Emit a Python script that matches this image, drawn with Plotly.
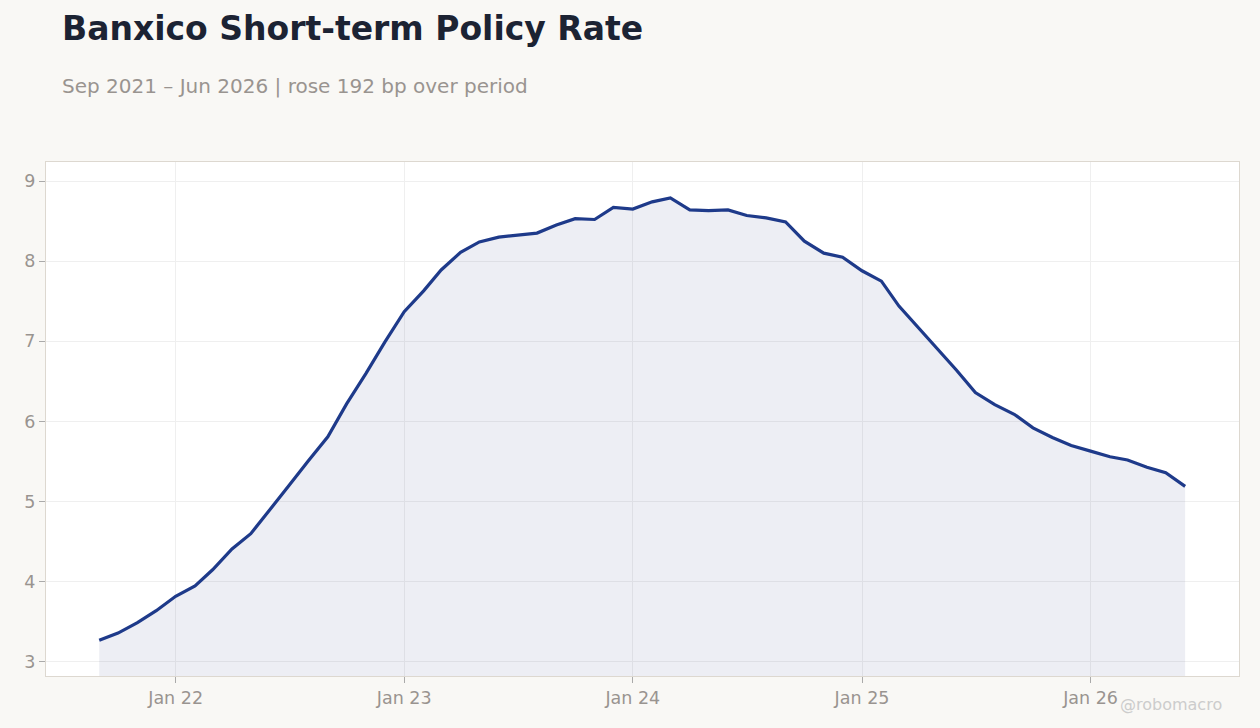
import plotly.graph_objects as go
import pandas as pd

months = pd.date_range("2021-09-01", "2026-06-01", freq="MS")
rate = [3.27, 3.36, 3.49, 3.64, 3.82, 3.95, 4.15, 4.41, 4.60, 4.90,
        5.20, 5.51, 5.81, 6.22, 6.60, 6.99, 7.37, 7.63, 7.89, 8.11,
        8.24, 8.30, 8.32, 8.35, 8.45, 8.53, 8.52, 8.67, 8.65, 8.74,
        8.79, 8.64, 8.63, 8.64, 8.57, 8.54, 8.49, 8.25, 8.10, 8.05,
        7.88, 7.75, 7.44, 7.17, 6.90, 6.64, 6.36, 6.21, 6.09, 5.92,
        5.80, 5.70, 5.63, 5.56, 5.52, 5.43, 5.36, 5.19]

title = "Banxico Short-term Policy Rate"
subtitle = "Sep 2021 – Jun 2026 | rose 192 bp over period"
watermark = "@robomacro"

LINE = "#1e3a8a"
FONT = "DejaVu Sans"

fig = go.Figure()
fig.add_trace(go.Scatter(
    x=months, y=rate, mode="lines",
    line=dict(color=LINE, width=3.2),
    fill="tozeroy", fillcolor="rgba(30,40,110,0.08)",
    hoverinfo="x+y", showlegend=False,
))

fig.update_layout(
    width=1260, height=728,
    paper_bgcolor="#f9f8f5", plot_bgcolor="#ffffff",
    margin=dict(l=46, r=21, t=162, b=52),
    font=dict(family=FONT, color="#999490"),
    xaxis=dict(
        range=["2021-06-08", "2026-08-26"],
        tickformat="%b %y", dtick="M12", tick0="2022-01-01",
        showgrid=True, gridcolor="#efefef",
        ticks="outside", ticklen=6, tickcolor="#aaaaaa",
        tickfont=dict(size=17.5, color="#999490"),
        showline=True, linecolor="#ddd8d0", mirror=True,
        zeroline=False,
    ),
    yaxis=dict(
        range=[2.825, 9.237],
        dtick=1, tick0=3,
        showgrid=True, gridcolor="#efefef",
        ticks="outside", ticklen=6, tickcolor="#aaaaaa",
        tickfont=dict(size=17.5, color="#999490"),
        showline=True, linecolor="#ddd8d0", mirror=True,
        zeroline=False,
    ),
    annotations=[
        dict(text=f"<b>{title}</b>", xref="paper", yref="paper",
             x=0.01425, y=1.2588, xanchor="left", yanchor="middle", xshift=-3,
             showarrow=False, font=dict(family=FONT, size=33, color="#1c2333")),
        dict(text=subtitle, xref="paper", yref="paper",
             x=0.01425, y=1.148, xanchor="left", yanchor="middle", xshift=-3,
             showarrow=False, font=dict(family=FONT, size=20, color="#999490")),
        dict(text=watermark, xref="paper", yref="paper",
             x=0.9858, y=-0.0564, xanchor="right", yanchor="middle", xshift=2,
             showarrow=False, font=dict(family=FONT, size=16, color="#cccccc")),
    ],
)

fig.write_html("out.html", config={"displayModeBar": False},
               post_script="document.body.style.margin='0';")
